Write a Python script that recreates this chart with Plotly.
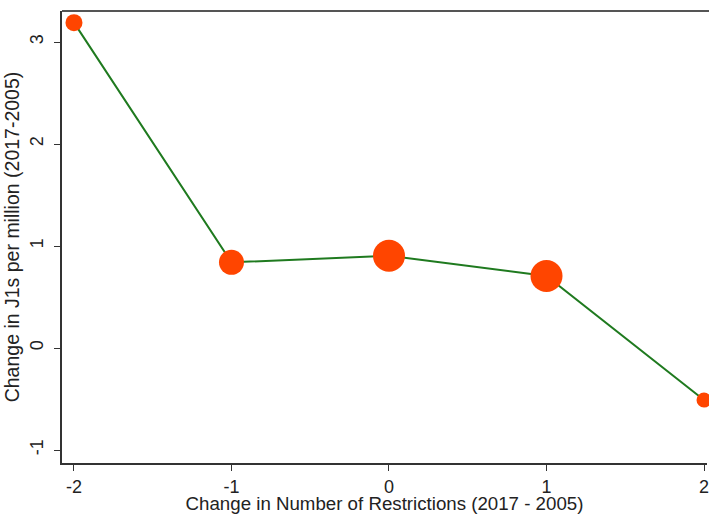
import plotly.graph_objects as go

change_restrictions = [-2, -1, 0, 1, 2]
change_j1s = [3.19, 0.84, 0.905, 0.706, -0.51]
group_weight = [17, 25, 32, 32, 15]

x_ticks = [-2, -1, 0, 1, 2]
y_ticks = [-1, 0, 1, 2, 3]

fig = go.Figure()
fig.add_trace(go.Scatter(
    x=change_restrictions, y=change_j1s, mode="lines",
    line=dict(color="#1f7a1f", width=2), hoverinfo="skip", showlegend=False))
fig.add_trace(go.Scatter(
    x=change_restrictions, y=change_j1s, mode="markers",
    marker=dict(color="#ff4500", size=group_weight, sizemode="diameter",
                line=dict(width=0), opacity=1),
    showlegend=False, cliponaxis=False))

font = dict(family="Liberation Sans, Arial, sans-serif", color="#222222")
fig.update_layout(
    width=709, height=514,
    margin=dict(l=62, r=0, t=11, b=51),
    paper_bgcolor="white", plot_bgcolor="white",
    font=dict(**font, size=18),
    shapes=[dict(type="line", xref="paper", yref="paper", x0=0, x1=1.01, y0=1, y1=1,
                 line=dict(color="#555555", width=2))],
)
fig.update_xaxes(
    range=[-2.076, 2.019], tickvals=x_ticks, ticktext=[str(v) for v in x_ticks],
    showgrid=False, zeroline=False, showline=True, linecolor="#333333", linewidth=2,
    mirror=False, ticks="outside", ticklen=6, tickwidth=1.3, tickcolor="#333333",
    tickfont=dict(size=18), ticklabelstandoff=0, ticklabeloverflow="allow",
    title=dict(text="Change in Number of Restrictions (2017 - 2005)",
               font=dict(size=18.7), standoff=1),
)
fig.update_yaxes(
    range=[-1.127, 3.304], tickvals=y_ticks, ticktext=[str(v) for v in y_ticks],
    showgrid=False, zeroline=False, showline=True, linecolor="#333333", linewidth=2,
    mirror=False, ticks="outside", ticklen=6, tickwidth=1.3, tickcolor="#333333",
    tickangle=-90, tickfont=dict(size=18), ticklabelstandoff=4,
    title=dict(text="Change in J1s per million (2017-2005)",
               font=dict(size=19.5), standoff=2),
)

fig.write_html("out.html")
